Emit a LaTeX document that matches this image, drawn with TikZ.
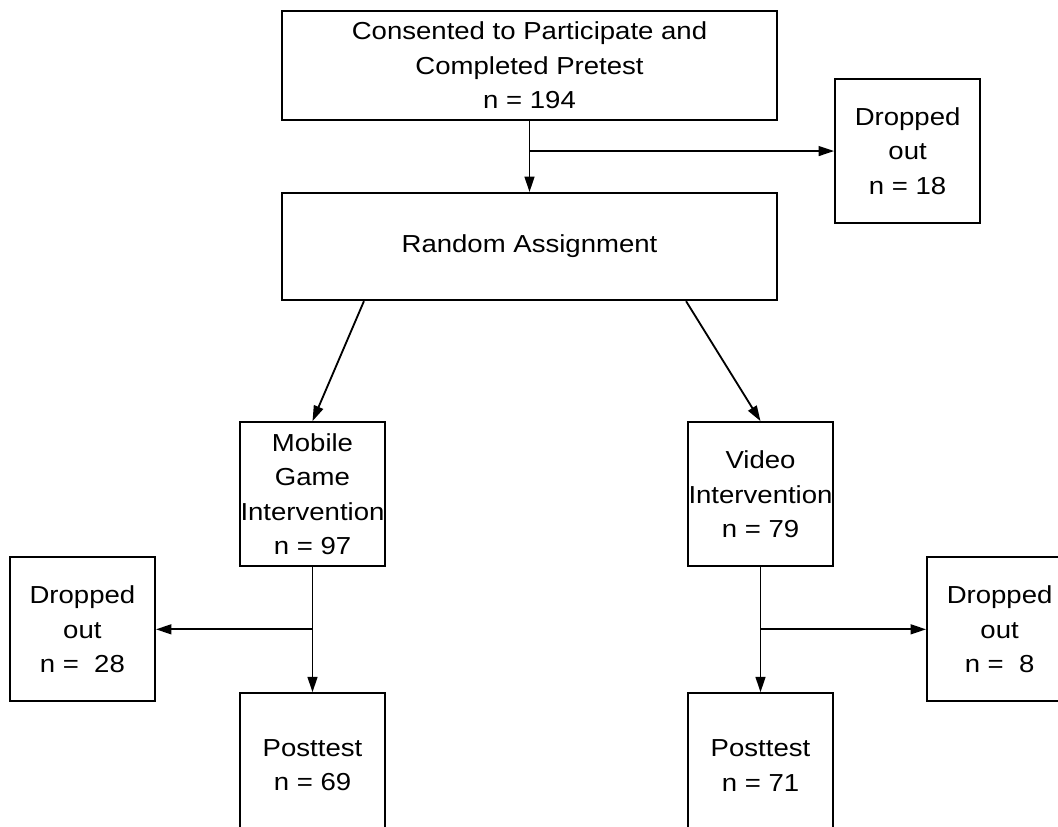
\documentclass[tikz,border=0pt]{standalone}
\usepackage{fontspec}
\setmainfont{Liberation Sans}[FakeStretch=1.12]
\usepackage{tikz}
\usetikzlibrary{arrows.meta,positioning}

\begin{document}
\begin{tikzpicture}[
    node distance=1cm,
    box/.style={rectangle,draw,line width=1.5pt,align=center,inner xsep=0pt,
        minimum width=3.625cm,minimum height=3.6cm,font=\fontsize{17.5}{24.5}\selectfont},
    widebox/.style={box,minimum width=12.375cm},
    arrow/.style={-{Triangle[length=11pt,width=7pt]},line width=1.3pt}
]
\useasboundingbox (0,0) rectangle (26.45,-20.675);

\node[widebox,minimum height=2.725cm] (consent) at (13.2375,-1.6375) {Consented to Participate and\\Completed Pretest\\n = 194};
\node[widebox,minimum height=2.675cm,below=1.775cm of consent] (random) {Random Assignment};
\node[box,below right=0.3125cm and 1.4cm of consent.east] (drop1) {Dropped\\out\\n = 18};

\node[box,below=3cm of random.south,xshift=-5.425cm] (mobile) {Mobile\\Game\\Intervention\\n = 97};
\node[box,below=3cm of random.south,xshift=5.775cm] (video) {Video\\Intervention\\n = 79};

\node[box,below left=-0.275cm and 2.075cm of mobile.south west] (dropL) {Dropped\\out\\n =\ \ 28};
\node[box,below right=-0.275cm and 2.3cm of video.south east] (dropR) {Dropped\\out\\n =\ \ 8};

\node[box,below=3.125cm of mobile] (postL) {Posttest\\n = 69};
\node[box,below=3.125cm of video] (postR) {Posttest\\n = 71};

\coordinate (b1) at (consent.south |- drop1.west);
\coordinate (bL) at (mobile.south |- dropL.east);
\coordinate (bR) at (video.south |- dropR.west);

\draw[arrow] (consent) -- (random);
\draw[arrow] (b1) -- (drop1.west);
\draw[arrow] ([xshift=2.075cm]random.south west) -- (mobile.north);
\draw[arrow] ([xshift=-2.3cm]random.south east) -- (video.north);
\draw[arrow] (mobile) -- (postL);
\draw[arrow] (bL) -- (dropL.east);
\draw[arrow] (video) -- (postR);
\draw[arrow] (bR) -- (dropR.west);
\end{tikzpicture}
\end{document}
